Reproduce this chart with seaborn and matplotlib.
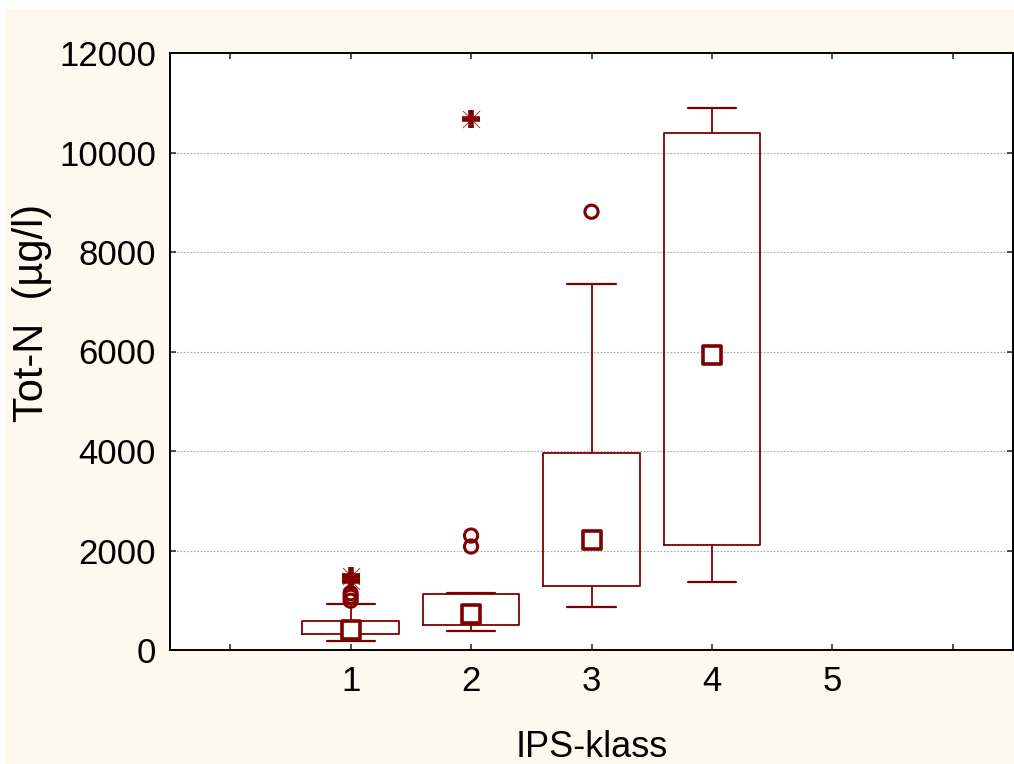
import matplotlib
matplotlib.use("Agg")
import matplotlib.pyplot as plt
import numpy as np
import pandas as pd
import seaborn as sns
from matplotlib.patches import Rectangle

# IPS classes on the x axis
klass = ["1", "2", "3", "4", "5"]

# Box summaries (µg/l) for the classes that have observations
box_klass = [1, 2, 3, 4]
median = [395, 722, 2210, 5920]
q1 = [321, 500, 1285, 2105]
q3 = [582, 1130, 3950, 10400]
whisk_lo = [180, 380, 860, 1365]
whisk_hi = [920, 1145, 7350, 10900]

# Outliers (circles) and extremes (asterisks)
outlier_klass = [1, 1, 1, 2, 2, 3]
outlier_val = [990, 1070, 1140, 2080, 2300, 8810]
extreme_klass = [1, 1, 2]
extreme_val = [1380, 1490, 10680]

yticks = [0, 2000, 4000, 6000, 8000, 10000, 12000]

sns.set_theme(style="ticks")
plt.rcParams["font.family"] = ["Liberation Sans", "DejaVu Sans"]

RED = "#800000"
CREAM = "#fef9ee"

fig = plt.figure(figsize=(10.14, 7.64), dpi=100)
fig.patch.set_facecolor("white")
fig.patches.append(Rectangle((5 / 1014, 0), 1, 755 / 764, transform=fig.transFigure,
                             facecolor=CREAM, edgecolor="none", zorder=-10))

ax = fig.add_axes([170 / 1014, 1 - 650 / 764, 843 / 1014, 597 / 764])
ax.set_facecolor("white")

stats = [
    dict(med=m, q1=a, q3=b, whislo=lo, whishi=hi, fliers=[], label=str(k))
    for k, m, a, b, lo, hi in zip(box_klass, median, q1, q3, whisk_lo, whisk_hi)
]
ax.bxp(stats, positions=box_klass, widths=0.8, capwidths=0.4, showfliers=False,
       manage_ticks=False,
       boxprops=dict(color=RED, linewidth=1.3),
       whiskerprops=dict(color=RED, linewidth=1.3),
       capprops=dict(color=RED, linewidth=1.6),
       medianprops=dict(linewidth=0))

med_df = pd.DataFrame({"klass": box_klass, "value": median})
out_df = pd.DataFrame({"klass": outlier_klass, "value": outlier_val})
ext_df = pd.DataFrame({"klass": extreme_klass, "value": extreme_val})

sns.scatterplot(data=med_df, x="klass", y="value", ax=ax, marker="s", s=150,
                facecolor="white", edgecolor=RED, linewidth=2.6, zorder=5)
sns.scatterplot(data=out_df, x="klass", y="value", ax=ax, marker="o", s=90,
                facecolor="none", edgecolor=RED, linewidth=2.2, zorder=5)
sns.scatterplot(data=ext_df, x="klass", y="value", ax=ax, marker="x", s=150,
                color=RED, linewidth=0.8, zorder=5, alpha=0.7)
sns.scatterplot(data=ext_df, x="klass", y="value", ax=ax, marker="+", s=150,
                color=RED, linewidth=4, zorder=6)

ax.set_xlim(-0.5, 6.5)
ax.set_ylim(0, 12000)
ax.set_xticks(range(0, 7))
ax.set_xticklabels([""] + klass + [""])
ax.set_yticks(yticks)
ax.set_yticklabels([str(v) for v in yticks])

for v in yticks[1:-1]:
    ax.axhline(v, color="#a8a8a8", linewidth=0.8, linestyle=(0, (1.5, 1.5)), zorder=0)

for s in ax.spines.values():
    s.set_visible(True)
    s.set_color("black")
    s.set_linewidth(1.4)

ax.tick_params(axis="both", direction="in", length=4, width=1.2, color="#333333",
               labelsize=25, top=True, right=True, labelcolor="black")
ax.tick_params(axis="y", pad=10)
ax.tick_params(axis="x", pad=11)

ax.set_xlabel("IPS-klass", fontsize=26, va="baseline", color="black")
ax.xaxis.set_label_coords(0.5, (650 - 757) / 597)
ax.set_ylabel("Tot-N  (µg/l)", fontsize=30, color="black")
ax.yaxis.set_label_coords(-0.14, 0.564)

fig.savefig("out.png", dpi=100)
